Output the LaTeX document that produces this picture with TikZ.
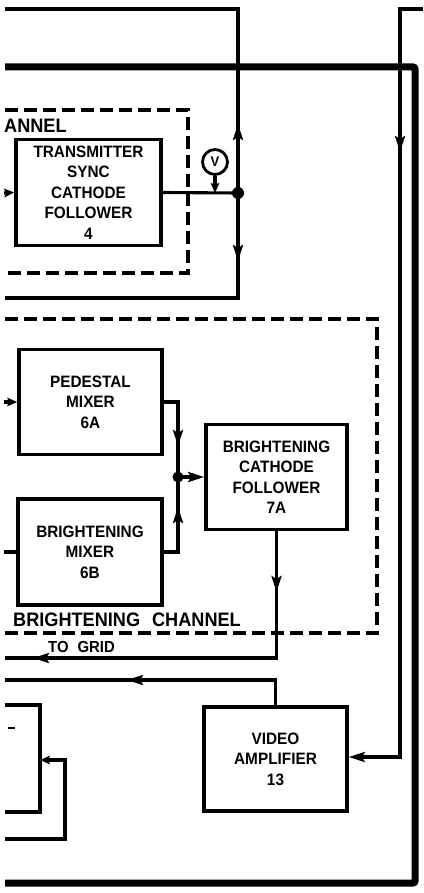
\documentclass[tikz,border=0pt]{standalone}
\usepackage{fontspec}
\setmainfont[FakeStretch=0.93]{Liberation Sans}
\usetikzlibrary{arrows.meta}
\begin{document}
\begin{tikzpicture}[x=1pt,y=-1pt,
  box/.style={draw,line width=3.6pt,rectangle,inner sep=0pt,align=center,
    font=\fontsize{16.5}{20.5}\selectfont\bfseries},
  boxline/.style={line width=3.6pt},
  sig/.style={line width=3.1pt},
  bus/.style={line width=7pt,rounded corners=2pt},
  dashbox/.style={line width=3.4pt,dash pattern=on 13pt off 6pt},
  arr/.style={-{Stealth[length=16pt,width=10pt,inset=3pt]}},
  arrs/.style={-{Stealth[length=10pt,width=8.5pt,inset=2pt]}},
  lab/.style={anchor=west,inner sep=0pt,font=\fontsize{19.5}{22}\selectfont\bfseries},
  lab2/.style={anchor=west,inner sep=0pt,font=\fontsize{16}{18}\selectfont\bfseries}]
\useasboundingbox (0,0) rectangle (423,893);

% thick bus
\draw[bus] (5,67) -- (415,67) -- (415,883) -- (5,883);

% dashed channel boxes
\draw[dashbox] (5,110) -- (188,110) -- (188,273) -- (5,273);
\draw[dashbox] (5,319) -- (377,319) -- (377,633) -- (5,633);

\node[lab] (ann) at (4,126) {ANNEL};
\node[lab] (bch) at (13,620) {BRIGHTENING\hspace{12pt}CHANNEL};
\node[lab2] (tog) at (48,647) {TO\hspace{9pt}GRID};

% blocks
\node[box,minimum width=145pt,minimum height=106pt] (tsync) at (88.5,192.5)
  {TRANSMITTER\\SYNC\\CATHODE\\FOLLOWER\\4};
\node[box,minimum width=143pt,minimum height=105pt] (ped) at (90.5,402)
  {PEDESTAL\\MIXER\\6A};
\node[box,minimum width=144pt,minimum height=106pt] (bmix) at (90,552)
  {BRIGHTENING\\MIXER\\6B};
\node[box,minimum width=141pt,minimum height=105pt] (bcf) at (276.5,477)
  {BRIGHTENING\\CATHODE\\FOLLOWER\\7A};
\node[box,minimum width=143pt,minimum height=104pt] (vamp) at (275.5,759)
  {VIDEO\\AMPLIFIER\\13};

% transmitter sync output and junction
\coordinate (J1) at (238,193);
\coordinate (A1) at (238,9);
\coordinate (A0) at (5,9);
\coordinate (B1) at (238,298);
\coordinate (B0) at (5,298);
\coordinate (tin) at (4,193);
\draw[sig,arrs] (tin) -- (tsync.west);
\draw[sig] (tsync.east) -- (J1);
\draw[sig] (J1) -- (A1) -- (A0);
\draw[sig] (J1) -- (B1) -- (B0);
\draw[sig,arr] (238,142) -- (238,124);
\draw[sig,arr] (238,242) -- (238,261);
\fill (J1) circle (6pt);

% voltmeter
\node[circle,draw,line width=2.8pt,minimum size=25pt,inner sep=0pt,
  font=\fontsize{14}{14}\selectfont\bfseries] (V) at (215,162) {V};
\draw[sig,arrs] (V.south) -- (V.south |- J1);

% right feed to video amplifier
\coordinate (R0) at (423,9);
\coordinate (R1) at (400,9);
\coordinate (R2) at (400,757);
\draw[sig,arr] (R0) -- (R1) -- (R2) -- (R2 -| vamp.east);
\draw[sig,arr] (400,133) -- (400,152);

% brightening channel
\coordinate (J2) at (178,477);
\coordinate (pin) at (4,402);
\coordinate (bin) at (4,552);
\draw[sig,arrs] (pin) -- (ped.west);
\draw[sig] (bin) -- (bmix.west);
\draw[sig] (ped.east) -| (J2);
\draw[sig] (bmix.east) -| (J2);
\draw[sig,arr] (178,428) -- (178,446);
\draw[sig,arr] (178,526) -- (178,507);
\draw[sig,arr] (J2) -- (J2 -| bcf.west);
\fill (J2) circle (5.5pt);

% to grid
\coordinate (G0) at (5,658);
\draw[sig] (bcf.south) |- (G0);
\draw[sig,arr] (276.5,570) -- (276.5,592);
\draw[sig,arr] (57,658) -- (33,658);

% video amplifier output
\coordinate (V0) at (5,680);
\draw[sig] (vamp.north) |- (V0);
\draw[sig,arr] (152,680) -- (127,680);

% partial block at lower left
\draw[boxline] (5,705) -- (40,705) -- (40,812) -- (5,812);
\draw[line width=2.6pt] (8,728) -- (15,728);
\coordinate (L3) at (40,760);
\coordinate (L0) at (5,839);
\draw[sig,arrs] (L0) -- (65,839) -- (65,760) -- (L3);
\end{tikzpicture}
\end{document}
